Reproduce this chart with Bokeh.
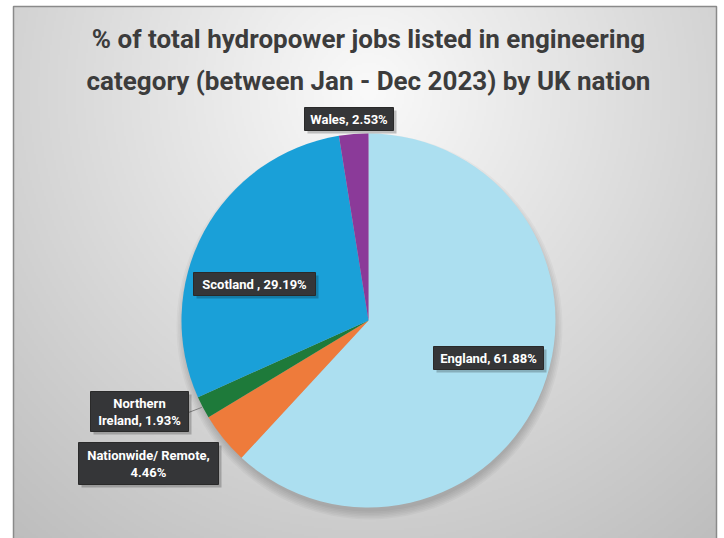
import numpy as np
from bokeh.plotting import figure
from bokeh.models import Range1d
from bokeh.core.properties import value
from bokeh.embed import file_html
from bokeh.resources import INLINE

# ---- data ----
nations = ["England", "Nationwide/ Remote", "Northern Ireland", "Scotland", "Wales"]
shares = [61.88, 4.46, 1.93, 29.19, 2.53]
labels = [["England, 61.88%"], ["Nationwide/ Remote,", "4.46%"], ["Northern", "Ireland, 1.93%"],
          ["Scotland , 29.19%"], ["Wales, 2.53%"]]
colors = ["#acdff0", "#ee7b3b", "#1e7a3a", "#1aa0d8", "#8b3a99"]
title_lines = ["% of total hydropower jobs listed in engineering",
               "category (between Jan - Dec 2023) by UK nation"]

# ---- layout (pixel space, y measured from top) ----
W, H = 724, 538
CX, CY, R = 368, 320, 187
# label boxes: left, right, top, bottom
boxes = [(433, 543, 346, 369), (78, 218, 442, 484), (90, 188, 391, 431),
         (193, 315, 272, 295), (304, 393, 107, 130)]

def Y(py):
    return H - py

p = figure(width=W, height=H, output_backend="svg", toolbar_location=None,
           x_range=Range1d(0, W), y_range=Range1d(0, H), min_border=0)
p.axis.visible = False
p.grid.visible = False
p.outline_line_color = None
p.background_fill_color = "white"
p.border_fill_color = "white"

# background radial gradient in frame
fx0, fx1, fy0 = 13, 716, 6
gw, gh = (fx1 - fx0) // 2, (H - fy0) // 2
xs = np.linspace(fx0, fx1, gw)
ys = np.linspace(H, fy0, gh)  # row 0 = bottom
XX, YY = np.meshgrid(xs, ys)
d = np.sqrt(((XX - 368) / 460.0) ** 2 + ((YY - 90) / 480.0) ** 2)
g = np.clip(250 - 50 * d, 185, 250).astype(np.uint32)
img = (255 << 24) | (g << 16) | (g << 8) | g
p.image_rgba(image=[img.astype(np.uint32)], x=fx0, y=0, dw=fx1 - fx0, dh=H - fy0)
# frame border
p.line(x=[fx0, fx0, fx1, fx1], y=[0, Y(fy0), Y(fy0), 0], line_color="#8a8a8a", line_width=1.5)

# pie shadow
for k in range(6):
    p.circle(x=CX + 1, y=Y(CY) - 6, radius=R - 2 + k * 1.6, fill_color="black",
             fill_alpha=0.03, line_color=None)

# wedges
fr = np.array(shares) / sum(shares)
cum = np.concatenate([[0], np.cumsum(fr)])
starts = np.pi / 2 - 2 * np.pi * cum[:-1]
ends = np.pi / 2 - 2 * np.pi * cum[1:]
p.wedge(x=CX, y=Y(CY), radius=R, start_angle=starts, end_angle=ends,
        direction="clock", fill_color=colors, line_color=None)

# leader line for Northern Ireland
ni = 2
mid = (starts[ni] + ends[ni]) / 2
bx = boxes[ni]
p.line(x=[bx[1], CX + R * np.cos(mid) - 1], y=[Y((bx[2] + bx[3]) / 2 + 1), Y(CY) + R * np.sin(mid)],
       line_color="#7f7f7f", line_width=1)

# label boxes
L = [b[0] for b in boxes]; Rr = [b[1] for b in boxes]
T = [Y(b[2]) for b in boxes]; B = [Y(b[3]) for b in boxes]
p.quad(left=[l + 3 for l in L], right=[r + 3 for r in Rr], top=[t - 3 for t in T],
       bottom=[b - 3 for b in B], fill_color="black", fill_alpha=0.22, line_color=None)
p.quad(left=L, right=Rr, top=T, bottom=B, fill_color="#353638", line_color="#2a2a2a")

tx, ty, tt = [], [], []
for b, lab in zip(boxes, labels):
    cx = (b[0] + b[1]) / 2
    cy = (b[2] + b[3]) / 2
    n = len(lab)
    for i, s in enumerate(lab):
        tx.append(cx)
        ty.append(Y(cy + (i - (n - 1) / 2) * 17))
        tt.append(s)
p.text(x=tx, y=ty, text=tt, text_align="center", text_baseline="middle",
       text_color="white", text_font=value("Roboto"), text_font_style="bold",
       text_font_size="13px")

# title
p.text(x=[CX, CX], y=[Y(38), Y(80)], text=title_lines, text_align="center",
       text_baseline="middle", text_color="#3c3c3c",
       text_font=value("Roboto"), text_font_style="bold",
       text_font_size="26px")

open("out.html", "w").write(file_html(p, INLINE))
